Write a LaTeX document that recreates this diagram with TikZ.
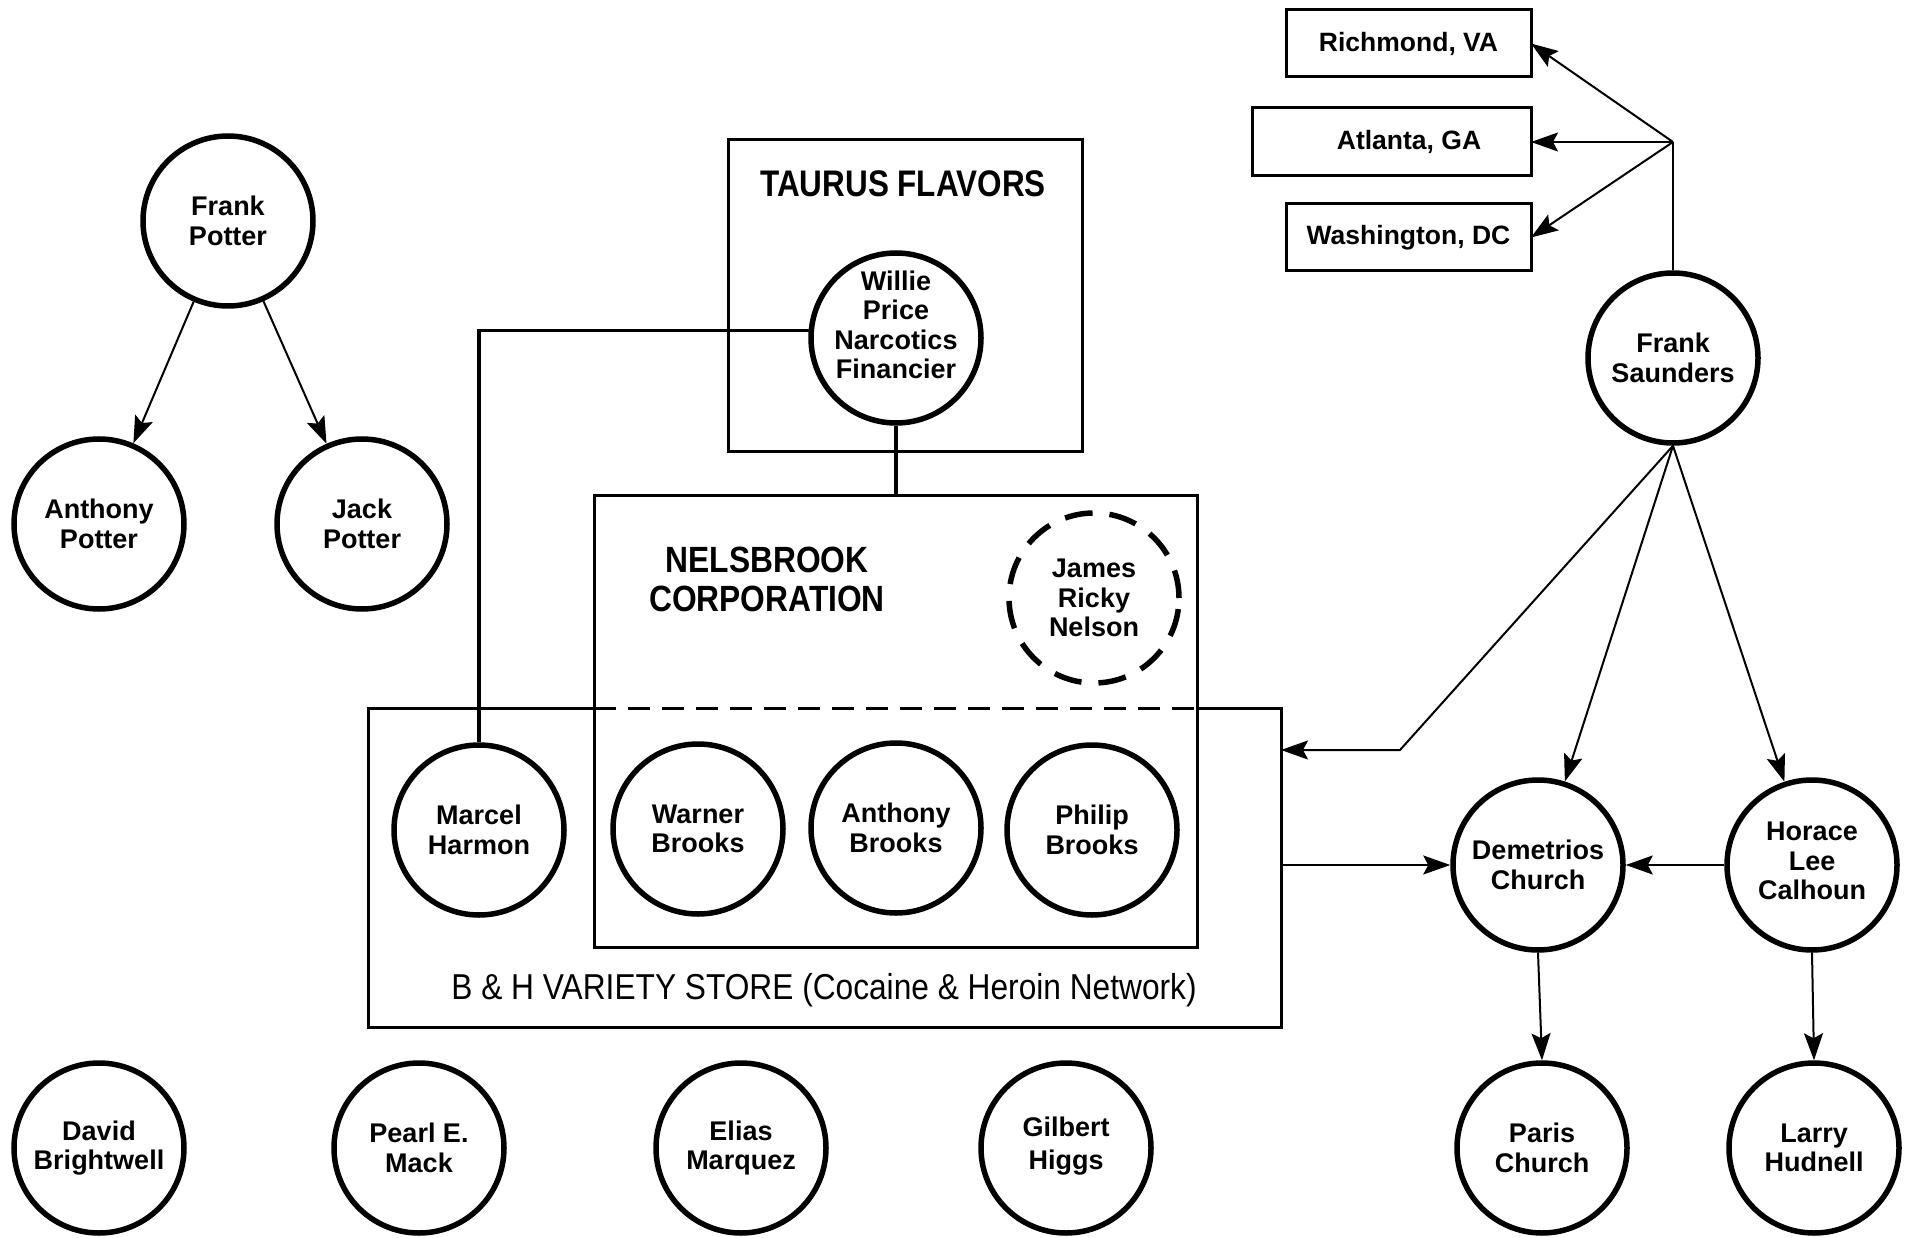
\documentclass[tikz,border=0pt]{standalone}
\usepackage{fontspec}
\setmainfont{Liberation Sans}
\newfontfamily\headfont[FakeStretch=0.85]{Liberation Sans}
\newfontfamily\nelsfont[FakeStretch=0.87]{Liberation Sans}
\newfontfamily\storefont[FakeStretch=0.88]{Liberation Sans}
\usetikzlibrary{arrows.meta,calc}
\begin{document}
\begin{tikzpicture}[x=1pt,y=-1pt,
 nametext/.style={align=center, inner sep=0pt, font=\bfseries\fontsize{27}{29.5}\selectfont},
 person/.style={circle, draw, line width=5.5pt, minimum size=170pt, inner sep=0pt, nametext},
 ghost/.style={person, dash pattern=on 28pt off 17pt},
 citybox/.style={rectangle, draw, line width=3pt, minimum height=67pt, minimum width=245pt,
   inner sep=0pt, outer sep=0pt, font=\bfseries\fontsize{26.5}{29}\selectfont},
 frame/.style={rectangle, draw, line width=3pt, inner sep=0pt, outer sep=0pt},
 arr/.style={line width=2pt, -{Stealth[length=27pt,width=19pt,inset=5pt]}},
 tie/.style={line width=3.5pt},
 heading/.style={font=\headfont\bfseries\fontsize{37}{39}\selectfont, align=center, inner sep=0pt},
]
\fill[white] (0,0) rectangle (1911,1238);
\useasboundingbox (0,0) rectangle (1911,1238);

% --- boxes ---
\node[frame, minimum width=354pt, minimum height=311pt] (tf) at (905,295.5) {};
\node[heading] (tft) at (903,184) {TAURUS FLAVORS};
\node[frame, minimum width=603pt, minimum height=452pt] (nb) at (895.5,721) {};
\node[heading, font=\nelsfont\bfseries\fontsize{36.5}{39}\selectfont] (nbt) at (767,579) {NELSBROOK\\CORPORATION};
\node[draw=none, minimum width=913pt, minimum height=319pt, inner sep=0pt, outer sep=0pt] (bh) at (824.5,867.5) {};
\draw[line width=3pt] (nb.west |- bh.north) -- (bh.north west) -- (bh.south west) -- (bh.south east) -- (bh.north east) -- (nb.east |- bh.north);
\draw[line width=3pt, dash pattern=on 22pt off 12pt] (nb.west |- bh.north) -- (nb.east |- bh.north);
\node[font=\storefont\fontsize{36}{39}\selectfont, inner sep=0pt] (bht) at (824,990) {B \& H VARIETY STORE (Cocaine \& Heroin Network)};

% --- city boxes ---
\node[citybox] (ri) at (1408.5,43.5) {Richmond, VA};
\node[citybox, minimum width=279pt, minimum height=68pt] (at) at (1391.5,142) {\hspace*{35pt}Atlanta, GA};
\node[citybox] (wa) at (1408.5,237.5) {Washington, DC};

% --- persons ---
\node[person] (fp) at (228,221) {Frank\\Potter};
\node[person] (ap) at (99,524) {Anthony\\Potter};
\node[person] (jp) at (362,524) {Jack\\Potter};
\node[person] (wp) at (896,338) {};
\node[nametext] (wpt) at (896,325) {Willie\\Price\\Narcotics\\Financier};
\node[ghost] (jr) at (1094,598) {James\\Ricky\\Nelson};
\node[person] (mh) at (479,830) {Marcel\\Harmon};
\node[person] (wb) at (698,829) {Warner\\Brooks};
\node[person] (ab) at (896,828) {Anthony\\Brooks};
\node[person] (pb) at (1092,830) {Philip\\Brooks};
\node[person] (fs) at (1673,358) {Frank\\Saunders};
\node[person] (dc) at (1538,865) {Demetrios\\Church};
\node[person] (hc) at (1812,865) {};
\node[nametext] (hct) at (1812,861) {Horace\\Lee\\Calhoun};
\node[person] (db) at (99,1148) {David\\Brightwell};
\node[person] (pm) at (419,1148) {Pearl E.\\Mack};
\node[person] (em) at (741,1148) {Elias\\Marquez};
\node[person] (gh) at (1066,1148) {};
\node[nametext, font=\bfseries\fontsize{27}{33}\selectfont] (ght) at (1066,1146) {Gilbert\\Higgs};
\node[person] (pc) at (1542,1148) {Paris\\Church};
\node[person] (lh) at (1814,1148) {Larry\\Hudnell};

% --- connectors ---
\draw[arr] (fp) -- (ap);
\draw[arr] (fp) -- (jp);
\draw[tie] (wp.175) -| (mh.north);
\draw[tie] (wp.south) -- (wp.south |- nb.north);

\coordinate (jn) at (1673,142);
\draw[line width=2pt] (fs.north) -- (jn);
\draw[arr] (jn) -- (ri.east);
\draw[arr] (jn) -- (at.east);
\draw[arr] (jn) -- (wa.east);

\coordinate (bend) at (1400,750);
\draw[arr] (fs.south) -- (bend) -- (bend -| bh.east);
\draw[arr] (fs.south) -- (dc);
\draw[arr] (fs.south) -- (hc);
\draw[arr] (bh.east |- dc.west) -- (dc.west);
\draw[arr] (hc.west) -- (dc.east);
\draw[arr] (dc.south) -- (pc.north);
\draw[arr] (hc.south) -- (lh.north);
\end{tikzpicture}
\end{document}
